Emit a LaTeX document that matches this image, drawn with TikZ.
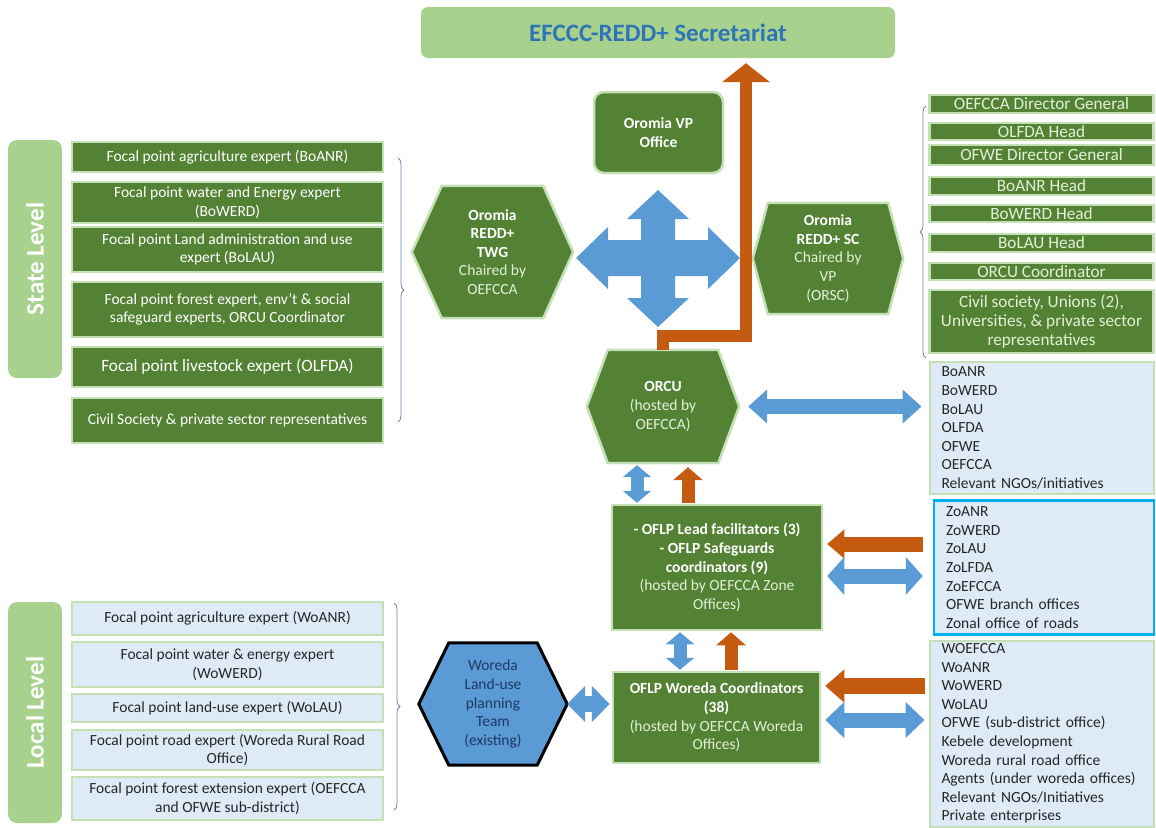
\documentclass[tikz,border=0pt]{standalone}
\usepackage{fontspec}
\setmainfont{Carlito}
\usetikzlibrary{arrows.meta,backgrounds,decorations.pathreplacing}

\definecolor{darkgreen}{RGB}{84,130,53}
\definecolor{edgegreen}{RGB}{197,224,180}
\definecolor{midgreen}{RGB}{169,209,142}
\definecolor{palegreen}{RGB}{226,240,217}
\definecolor{paleblue}{RGB}{222,235,247}
\definecolor{arrowblue}{RGB}{91,155,213}
\definecolor{arroworange}{RGB}{197,90,17}
\definecolor{titleblue}{RGB}{46,117,182}
\definecolor{skyblue}{RGB}{0,176,240}
\definecolor{navy}{RGB}{31,56,100}
\definecolor{bracegray}{RGB}{110,130,175}
\definecolor{textgray}{RGB}{38,38,38}

\tikzset{
  txt/.style={font=\fontsize{15.5}{18.6}\selectfont},
  greenbox/.style={txt, draw=edgegreen, line width=2.5pt, fill=darkgreen, text=white, align=center, inner sep=0pt},
  scbox/.style={greenbox, font=\fontsize{17.2}{18.6}\selectfont, text=palegreen, minimum width=224pt},
  bluebox/.style={txt, draw=edgegreen, line width=2pt, fill=paleblue, text=textgray, align=center, inner sep=0pt},
  listbox/.style={bluebox, align=left, text width=200pt},
  levelbox/.style={fill=midgreen, rounded corners=9pt, text=white, inner sep=0pt, font=\fontsize{25}{28}\selectfont\bfseries},
  hexbox/.style={txt, text=white, align=center, inner sep=0pt},
  hexfill/.style={draw=edgegreen, line width=2.5pt, fill=darkgreen, line join=miter},
  bluepair/.style args={#1/#2/#3}{draw=arrowblue, line width=#1,
    {Triangle[length=#2,width=#3]}-{Triangle[length=#2,width=#3]}},
  orangeone/.style args={#1/#2/#3}{draw=arroworange, line width=#1, line join=miter,
    -{Triangle[length=#2,width=#3]}},
  bracket/.style={draw=bracegray, line width=0.8pt, decorate, decoration={brace, amplitude=6pt}}
}
\newcommand{\pale}[1]{\textcolor{palegreen}{#1}}
\newcommand{\hexshape}[3][hexfill]{%
  \draw[#1] (#2.west) -- ([xshift=#3]#2.north west) -- ([xshift=-#3]#2.north east)
    -- (#2.east) -- ([xshift=-#3]#2.south east) -- ([xshift=#3]#2.south west) -- cycle;}

\begin{document}
\begin{tikzpicture}[x=1pt, y=-1pt]
  \useasboundingbox (0,0) rectangle (1156,827);

  \node[fill=midgreen, rounded corners=7pt, minimum width=474pt, minimum height=51pt, text=titleblue,
        font=\fontsize{25}{28}\selectfont\bfseries] (secr) at (658,32.5) {EFCCC-REDD+ Secretariat};
  \node[greenbox, rounded corners=10pt, minimum width=129pt, minimum height=81pt,
        font=\fontsize{15.5}{18.6}\selectfont\bfseries] (vp) at (658.5,132.5) {Oromia VP\\Office};

  % state level
  \node[levelbox, minimum width=54pt, minimum height=238pt] (state) at (35,259) {\rotatebox{90}{State Level}};
  \node[greenbox, minimum width=311pt, minimum height=30pt] (sagri) at (227.5,157) {Focal point agriculture expert (BoANR)};
  \node[greenbox, minimum width=311pt, minimum height=41pt] (swater) at (227.5,202.5) {Focal point water and Energy expert\\(BoWERD)};
  \node[greenbox, minimum width=311pt, minimum height=45pt] (sland) at (227.5,249.5) {Focal point Land administration and use\\expert (BoLAU)};
  \node[greenbox, minimum width=311pt, minimum height=55pt] (sforest) at (227.5,309.5) {Focal point forest expert, env't \& social\\safeguard experts, ORCU Coordinator};
  \node[greenbox, minimum width=311pt, minimum height=40pt, font=\fontsize{17.3}{18.6}\selectfont] (slive) at (227.5,367) {Focal point livestock expert (OLFDA)};
  \node[greenbox, minimum width=311pt, minimum height=45pt] (scivil) at (227.5,420.5) {Civil Society \& private sector representatives};
  \draw[bracket] (398,158) -- (398,422);

  \node[hexbox, minimum width=161pt, minimum height=132pt] (twg) at (492.5,252)
    {\textbf{Oromia}\\\textbf{REDD+}\\\textbf{TWG}\\\pale{Chaired by}\\\pale{OEFCCA}};
  \node[hexbox, minimum width=150pt, minimum height=111pt] (sc) at (828,258.5)
    {\textbf{Oromia}\\\textbf{REDD+ SC}\\\pale{Chaired by}\\\pale{VP}\\\pale{(ORSC)}};
  \node[hexbox, minimum width=152pt, minimum height=113pt] (orcu) at (663,406.5)
    {\textbf{ORCU}\\\pale{(hosted by}\\\pale{OEFCCA)}};

  % steering committee members
  \node[scbox, minimum height=18pt] (dg) at (1041.5,104) {OEFCCA Director General};
  \node[scbox, minimum height=17pt] (olfda) at (1041.5,131.5) {OLFDA Head};
  \node[scbox, minimum height=20pt] (ofwe) at (1041.5,155) {OFWE Director General};
  \node[scbox, minimum height=18pt] (boanr) at (1041.5,186) {BoANR Head};
  \node[scbox, minimum height=17pt] (bowerd) at (1041.5,213.5) {BoWERD Head};
  \node[scbox, minimum height=18pt] (bolau) at (1041.5,243) {BoLAU Head};
  \node[scbox, minimum height=17pt] (coord) at (1041.5,271.5) {ORCU Coordinator};
  \node[scbox, minimum height=63pt] (csos) at (1041.5,321.5) {Civil society, Unions (2),\\Universities, \& private sector\\representatives};
  \draw[bracket] (926,358) -- (926,106);

  % lists
  \node[listbox, minimum width=224pt, minimum height=132pt] (bureaus) at (1041.5,428)
    {BoANR\\BoWERD\\BoLAU\\OLFDA\\OFWE\\OEFCCA\\Relevant NGOs/initiatives};
  \node[listbox, draw=skyblue, line width=2.5pt, text width=196pt, minimum width=220pt, minimum height=134pt] (zonal) at (1044,567.5)
    {ZoANR\\ZoWERD\\ZoLAU\\ZoLFDA\\ZoEFCCA\\OFWE branch offices\\Zonal office of roads};
  \node[listbox, minimum width=224pt, minimum height=186pt] (woredas) at (1041.5,733.5)
    {WOEFCCA\\WoANR\\WoWERD\\WoLAU\\OFWE (sub-district office)\\Kebele development\\Woreda rural road office\\Agents (under woreda offices)\\Relevant NGOs/Initiatives\\Private enterprises};

  \node[greenbox, minimum width=210pt, minimum height=125pt] (zone) at (717,567.5)
    {\textbf{- OFLP Lead facilitators (3)}\\\textbf{- OFLP Safeguards}\\\textbf{coordinators (9)}\\\pale{(hosted by OEFCCA Zone}\\\pale{Offices)}};
  \node[greenbox, minimum width=207pt, minimum height=91pt] (woreda) at (716.5,717.5)
    {\textbf{OFLP Woreda Coordinators}\\\textbf{(38)}\\\pale{(hosted by OEFCCA Woreda}\\\pale{Offices)}};

  % local level
  \node[levelbox, minimum width=54pt, minimum height=221pt] (local) at (35,712.5) {\rotatebox{90}{Local Level}};
  \node[bluebox, minimum width=311pt, minimum height=33pt] (wagri) at (227.5,618.5) {Focal point agriculture expert (WoANR)};
  \node[bluebox, minimum width=311pt, minimum height=45pt] (wwater) at (227.5,664.5) {Focal point water \& energy expert\\(WoWERD)};
  \node[bluebox, minimum width=311pt, minimum height=28pt] (wland) at (227.5,708) {Focal point land-use expert (WoLAU)};
  \node[bluebox, minimum width=311pt, minimum height=40pt] (wroad) at (227.5,750) {Focal point road expert (Woreda Rural Road\\Office)};
  \node[bluebox, minimum width=311pt, minimum height=43pt] (wforest) at (227.5,798.5) {Focal point forest extension expert (OEFCCA\\and OFWE sub-district)};
  \draw[bracket] (394,603) -- (394,810);

  \node[hexbox, text=navy, minimum width=148pt, minimum height=122pt] (luteam) at (493,704)
    {Woreda\\Land-use\\planning\\Team\\(existing)};

  \begin{scope}[on background layer]
    \hexshape{twg}{30pt}
    \hexshape{sc}{15pt}
    \hexshape{orcu}{21pt}
    \hexshape[draw=black, line width=3pt, fill=arrowblue, line join=miter]{luteam}{30pt}
  \end{scope}

  % arrows
  \fill[arrowblue, shift={(658,258)}] (-82,0) -- (-50,-31) -- (-50,-18) -- (-17,-18) -- (-17,-39) -- (-31,-39)
    -- (0,-68) -- (31,-39) -- (17,-39) -- (17,-18) -- (50,-18) -- (50,-31) -- (82,0) -- (50,31) -- (50,18)
    -- (17,18) -- (17,40) -- (31,40) -- (0,69) -- (-31,40) -- (-17,40) -- (-17,18) -- (-50,18) -- (-50,31) -- cycle;
  \coordinate (bend) at (746,336);
  \draw[orangeone=12pt/19pt/47pt, shorten >=5pt] (orcu.north) |- (bend) -- (bend |- secr.south);
  \draw[bluepair=15pt/19pt/33pt, shorten <=9pt, shorten >=7pt] (orcu.east) -- (orcu.east -| bureaus.west);
  \draw[bluepair=13pt/12pt/28pt, shorten <=1pt, shorten >=2pt] ([xshift=-80pt]zone.north) -- ([xshift=-80pt]zone.north |- orcu.south);
  \draw[orangeone=13pt/13pt/29pt, shorten <=1pt, shorten >=4pt] ([xshift=-29pt]zone.north) -- ([xshift=-29pt]zone.north |- orcu.south);
  \draw[orangeone=15pt/17pt/28pt, shorten <=10pt, shorten >=4pt] ([yshift=23.5pt]zonal.west) -- ([yshift=23.5pt]zone.east);
  \draw[bluepair=15pt/17pt/37pt, shorten <=4pt, shorten >=10pt] ([yshift=-8.5pt]zone.east) -- ([yshift=-8.5pt]zonal.west);
  \draw[bluepair=13pt/12pt/28pt, shorten <=1pt, shorten >=1pt] ([xshift=-36.5pt]woreda.north) -- ([xshift=-36.5pt]woreda.north |- zone.south);
  \draw[orangeone=13pt/13pt/29pt, shorten <=1pt, shorten >=1pt] ([xshift=14.5pt]woreda.north) -- ([xshift=14.5pt]woreda.north |- zone.south);
  \draw[orangeone=16pt/19pt/32pt, shorten <=4pt, shorten >=4pt] ([yshift=47.5pt]woredas.west) -- ([yshift=31.5pt]woreda.east);
  \draw[bluepair=15pt/19pt/35pt, shorten <=4pt, shorten >=4pt] ([yshift=-2.5pt]woreda.east) -- ([yshift=13.5pt]woredas.west);
  \draw[bluepair=16pt/18pt/35pt, shorten <=0pt, shorten >=2pt] (luteam.east) -- (luteam.east -| woreda.west);
\end{tikzpicture}
\end{document}
